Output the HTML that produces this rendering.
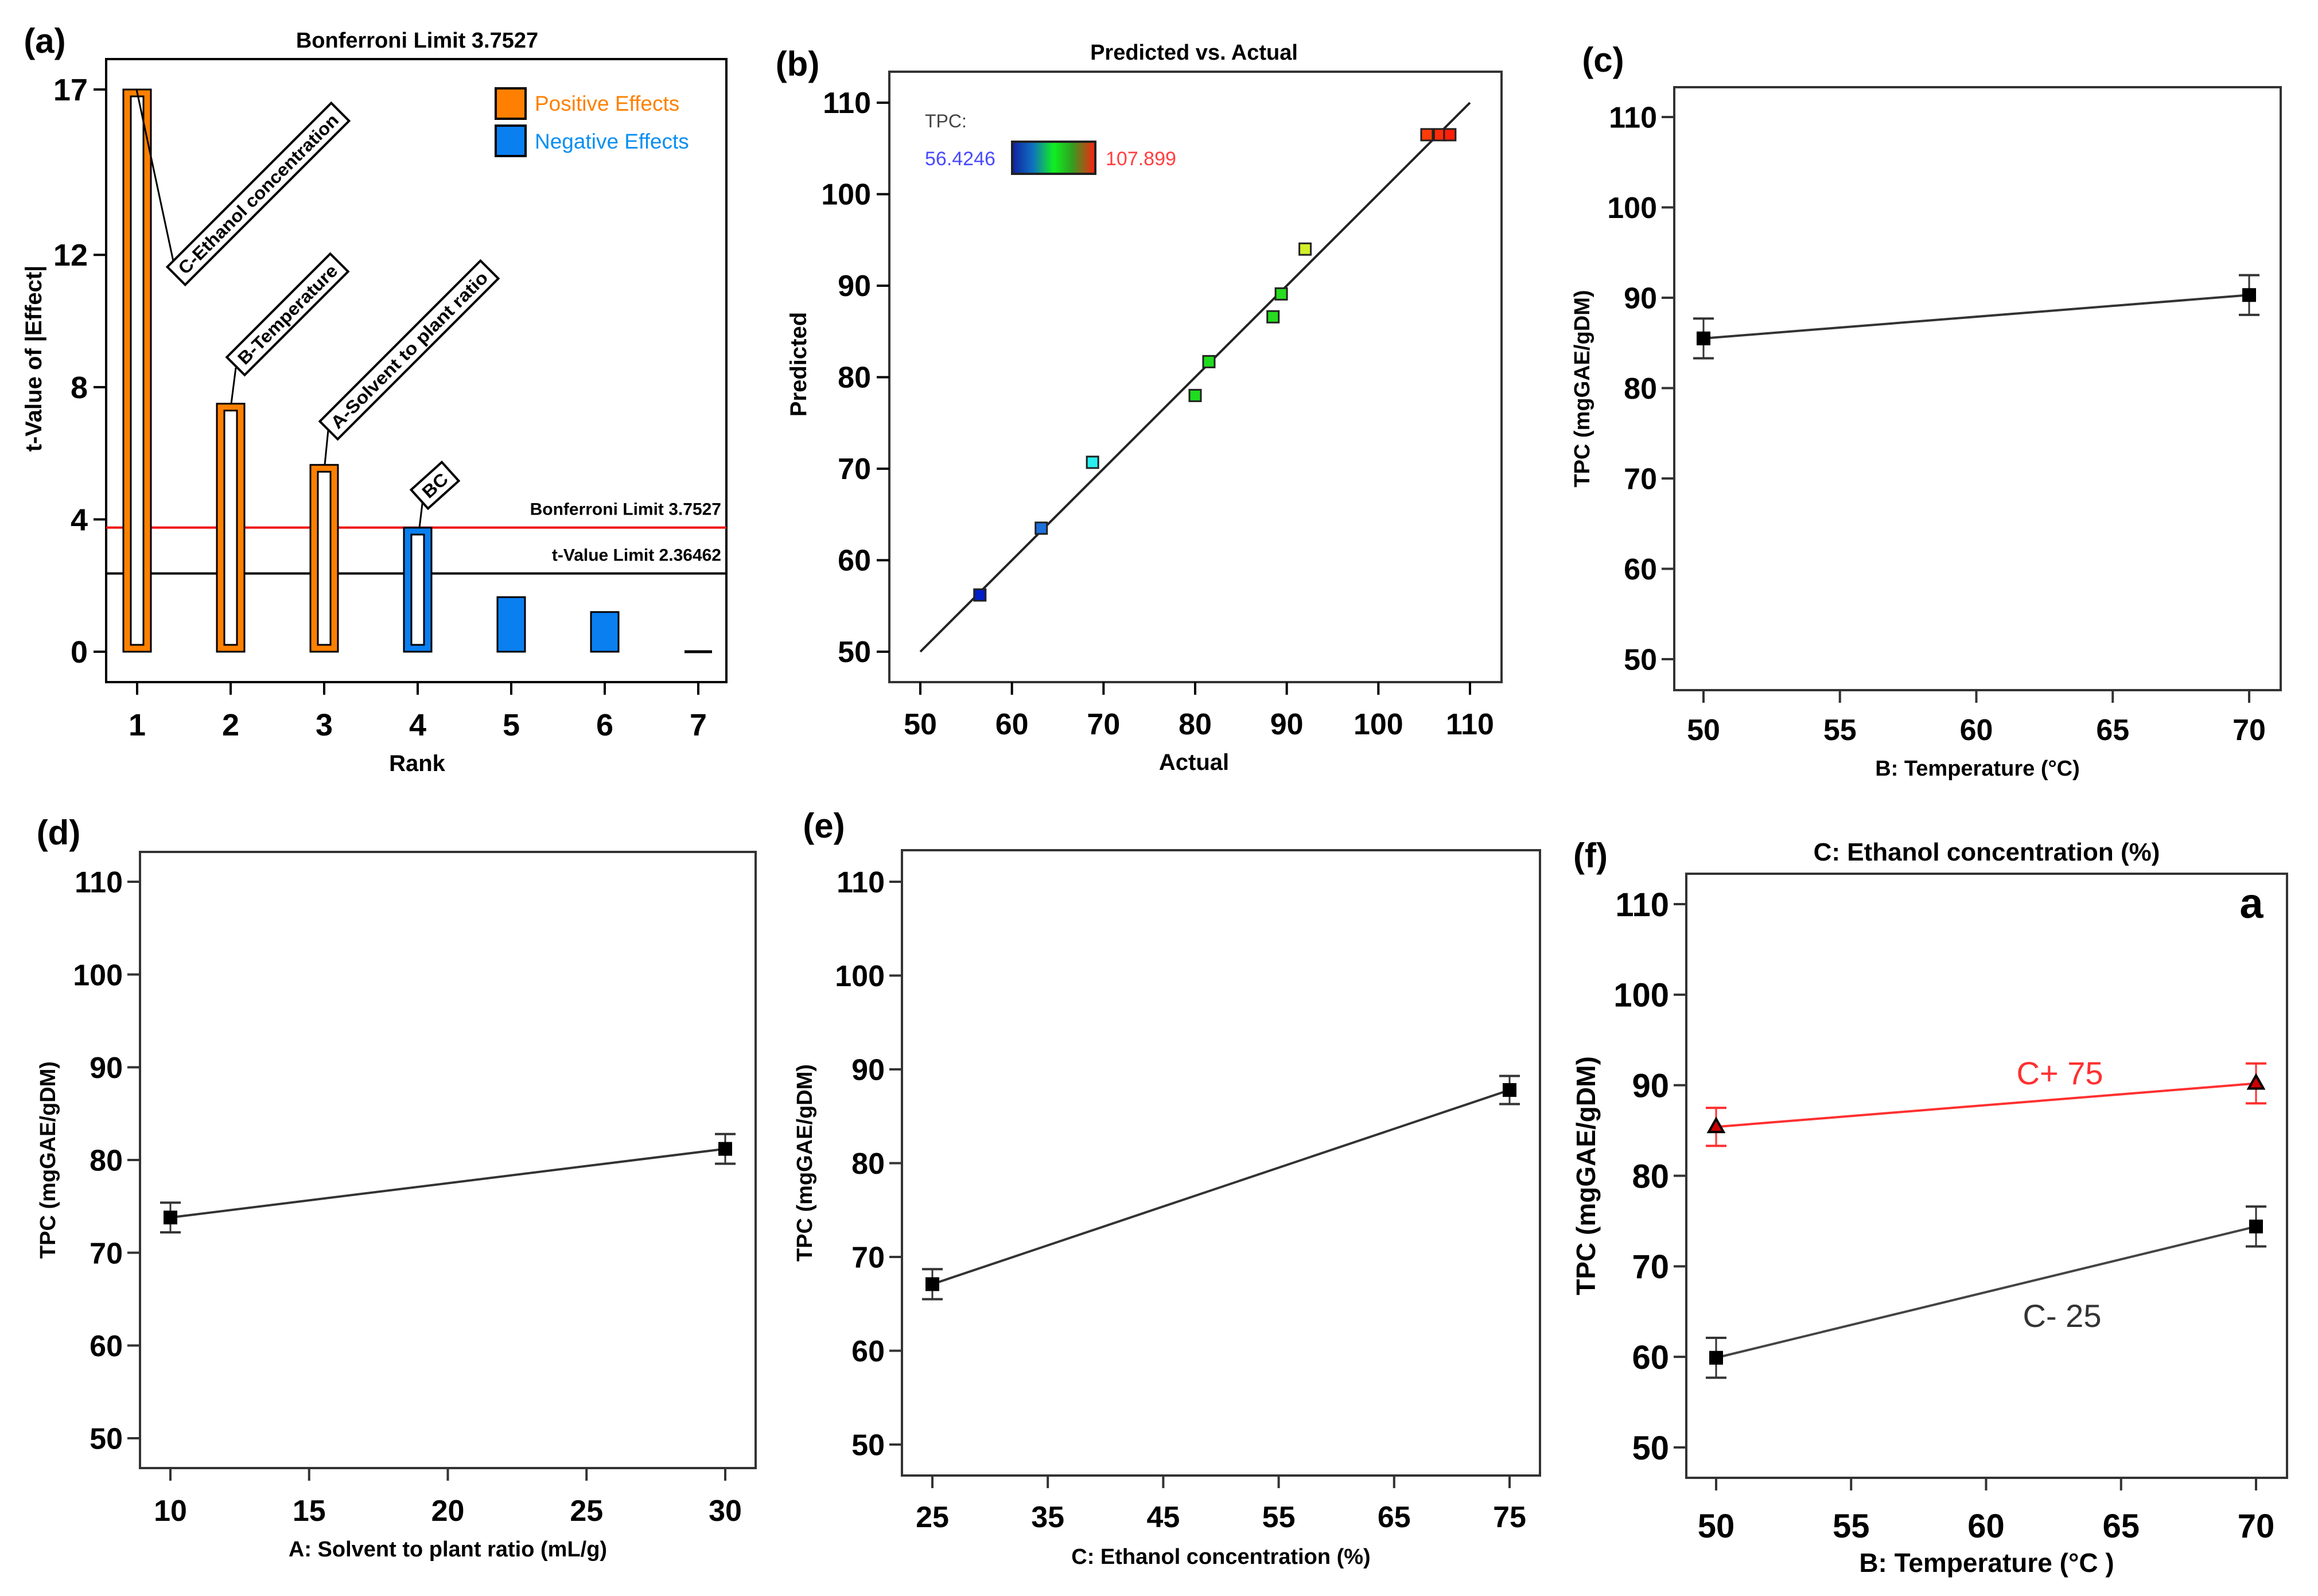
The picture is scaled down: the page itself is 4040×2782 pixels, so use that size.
<!DOCTYPE html>
<html><head><meta charset="utf-8"><style>
html,body{margin:0;padding:0;background:#fff;}
svg{display:block;font-family:"Liberation Sans",sans-serif;}
</style></head><body>
<svg id="fig" width="4040" height="2782" viewBox="0 0 4040 2782" xmlns="http://www.w3.org/2000/svg">
<defs>
<linearGradient id="cbar" x1="0" x2="1" y1="0" y2="0">
<stop offset="0" stop-color="#1020a0"/><stop offset="0.25" stop-color="#1070c0"/><stop offset="0.5" stop-color="#10f020"/><stop offset="0.72" stop-color="#30a020"/><stop offset="1" stop-color="#ff2010"/>
</linearGradient>
</defs>
</svg>
<script>
// ---- Panel (a) data ----
const paretoRanks = [1,2,3,4,5,6,7];
const paretoValues = [17, 7.5, 5.65, 3.75, 1.65, 1.2, 0];
const paretoSign = ['pos','pos','pos','neg','neg','neg','neg'];
const paretoYTicks = [0,4,8,12,17];
const bonferroniLimit = 3.7527;
const tValueLimit = 2.36462;
// ---- Panel (b) data ----
const actualVals = [56.5, 63.2, 68.8, 80.0, 81.5, 88.5, 89.4, 92.0, 105.3, 106.7, 107.8];
const predictedVals = [56.2, 63.5, 70.7, 78.0, 81.7, 86.6, 89.1, 94.0, 106.5, 106.5, 106.5];
const pvTicks = [50,60,70,80,90,100,110];
// ---- Panels (c)-(f) data ----
const tpcTicks = [50,60,70,80,90,100,110];
const tempTicks = [50,55,60,65,70];
const tempX = [50,70];
const tempTPC = [85.5, 90.3];
const tempErr = [2.2, 2.2];
const ratioTicks = [10,15,20,25,30];
const ratioX = [10,30];
const ratioTPC = [73.8, 81.2];
const ratioErr = [1.6, 1.6];
const ethTicks = [25,35,45,55,65,75];
const ethX = [25,75];
const ethTPC = [67.1, 87.8];
const ethErr = [1.6, 1.5];
const intX = [50,70];
const intHighTPC = [85.4, 90.2];
const intHighErr = [2.1, 2.2];
const intLowTPC = [59.9, 74.4];
const intLowErr = [2.2, 2.2];

const svg = document.getElementById('fig');
const NS = 'http://www.w3.org/2000/svg';
function el(tag, attrs, parent, text){
  const e = document.createElementNS(NS, tag);
  for (const k in attrs) e.setAttribute(k, attrs[k]);
  if (text !== undefined) e.textContent = text;
  (parent||svg).appendChild(e);
  return e;
}
function lin(d0,d1,r0,r1){ return v => r0 + (v-d0)*(r1-r0)/(d1-d0); }

// ===== Panel (a) =====
(function(){
  const g = el('g', {});
  
  
  const L=185,R=1266,T=103,B=1189;
  const x = lin(1,7,239,1217), y = lin(0,17,1136,156);
  const t = el('text',{x:78,y:92,'font-size':60,'font-weight':'bold','text-anchor':'middle'},g,'(a)');
   
  const tt = el('text',{x:727,y:83,'font-size':38,'font-weight':'bold','text-anchor':'middle'},g,'Bonferroni Limit 3.7527');
   
  const fr = el('rect',{x:L,y:T,width:R-L,height:B-T,fill:'none',stroke:'#000','stroke-width':4},g);
   
  paretoYTicks.forEach(v=>{
    el('line',{x1:L-22,x2:L,y1:y(v),y2:y(v),stroke:'#000','stroke-width':4},g);
    const lb = el('text',{x:L-32,y:y(v)+19,'font-size':54,'font-weight':'bold','text-anchor':'end'},g,String(v));
     
  });
  paretoRanks.forEach(r=>{
    el('line',{x1:x(r),x2:x(r),y1:B,y2:B+22,stroke:'#000','stroke-width':4},g);
    const lb = el('text',{x:x(r),y:1282,'font-size':54,'font-weight':'bold','text-anchor':'middle'},g,String(r));
     
  });
  const xt = el('text',{x:727,y:1344,'font-size':40,'font-weight':'bold','text-anchor':'middle'},g,'Rank');
   
  const yt = el('text',{x:0,y:0,'font-size':40,'font-weight':'bold','text-anchor':'middle',transform:'translate(72,625) rotate(-90)'},g,'t-Value of |Effect|');
   
  const bl = el('line',{x1:L,x2:R,y1:y(bonferroniLimit),y2:y(bonferroniLimit),stroke:'#f01010','stroke-width':4},g);
   
  const tl = el('line',{x1:L,x2:R,y1:y(tValueLimit),y2:y(tValueLimit),stroke:'#000','stroke-width':4},g);
   
  const blt = el('text',{x:1257,y:y(bonferroniLimit)-22,'font-size':30,'font-weight':'bold','text-anchor':'end'},g,'Bonferroni Limit 3.7527');
   
  const tlt = el('text',{x:1257,y:y(tValueLimit)-22,'font-size':30,'font-weight':'bold','text-anchor':'end'},g,'t-Value Limit 2.36462');
   
  paretoValues.forEach((v,i)=>{
    const cx = x(paretoRanks[i]);
    const col = paretoSign[i]==='pos' ? '#ff8000' : '#0a7ff0';
    if (v <= 0.05){
      const ln = el('line',{x1:cx-24,x2:cx+24,y1:y(0),y2:y(0),stroke:'#000','stroke-width':5},g);
       
      return;
    }
    const hollow = i < 4;
    const b = el('rect',{x:cx-24,y:y(v),width:48,height:y(0)-y(v),fill:col,stroke:'#000','stroke-width':3},g);
     
    if (hollow){
      el('rect',{x:cx-11,y:y(v)+12,width:22,height:y(0)-y(v)-24,fill:'#fff',stroke:'#000','stroke-width':3},g);
    }
  });
  const anns = [
    {txt:'C-Ethanol concentration',cx:450,cy:338,len:404,ang:-45,l:[[238,y(paretoValues[0])],[302,455]],n:'annotation-c-ethanol'},
    {txt:'B-Temperature',cx:501,cy:548,len:255,ang:-45,l:[[403,y(paretoValues[1])],[411,641]],n:'annotation-b-temperature'},
    {txt:'A-Solvent to plant ratio',cx:713,cy:610,len:396,ang:-45,l:[[566,y(paretoValues[2])],[572,750]],n:'annotation-a-solvent'},
    {txt:'BC',cx:758,cy:846,len:72,ang:-42,l:[[731,y(paretoValues[3])],[737,870]],n:'annotation-bc'}
  ];
  anns.forEach(a=>{
    el('line',{x1:a.l[0][0],y1:a.l[0][1],x2:a.l[1][0],y2:a.l[1][1],stroke:'#000','stroke-width':3},g);
    const ag = el('g',{transform:`translate(${a.cx},${a.cy}) rotate(${a.ang})`},g);
     
    el('rect',{x:-a.len/2,y:-22,width:a.len,height:44,fill:'#fff',stroke:'#000','stroke-width':4},ag);
    el('text',{x:0,y:11,'font-size':31,'font-weight':'bold','text-anchor':'middle',textLength:a.len-24,lengthAdjust:'spacingAndGlyphs'},ag,a.txt);
  });
  const lg = el('g',{},g);
   
  const l1 = el('rect',{x:864,y:154,width:52,height:53,fill:'#ff8000',stroke:'#000','stroke-width':4},lg);
   
  const l2 = el('rect',{x:864,y:219,width:52,height:53,fill:'#0a7ff0',stroke:'#000','stroke-width':4},lg);
   
  const lt1 = el('text',{x:932,y:193,'font-size':37,fill:'#ff8000'},lg,'Positive Effects');
   
  const lt2 = el('text',{x:932,y:259,'font-size':37,fill:'#0a8ff0'},lg,'Negative Effects');
   
})();

// ===== Panel (b) =====
(function(){
  const g = el('g',{});
  
  
  const L=1550,R=2617,T=125,B=1189;
  const x = lin(50,110,1604,2562), y = lin(50,110,1136,179);
  const pl = el('text',{x:1390,y:132,'font-size':60,'font-weight':'bold','text-anchor':'middle'},g,'(b)');
   
  const tt = el('text',{x:2081,y:104,'font-size':38,'font-weight':'bold','text-anchor':'middle'},g,'Predicted vs. Actual');
   
  const fr = el('rect',{x:L,y:T,width:R-L,height:B-T,fill:'none',stroke:'#333','stroke-width':4},g);
   
  pvTicks.forEach(v=>{
    el('line',{x1:L-22,x2:L,y1:y(v),y2:y(v),stroke:'#000','stroke-width':4},g);
    const a = el('text',{x:L-32,y:y(v)+18,'font-size':52,'font-weight':'bold','text-anchor':'end'},g,String(v));
     
    el('line',{x1:x(v),x2:x(v),y1:B,y2:B+22,stroke:'#000','stroke-width':4},g);
    const b = el('text',{x:x(v),y:1280,'font-size':52,'font-weight':'bold','text-anchor':'middle'},g,String(v));
     
  });
  const xt = el('text',{x:2081,y:1342,'font-size':40,'font-weight':'bold','text-anchor':'middle'},g,'Actual');
   
  const yt = el('text',{x:0,y:0,'font-size':40,'font-weight':'bold','text-anchor':'middle',transform:'translate(1405,635) rotate(-90)'},g,'Predicted');
   
  const dl = el('line',{x1:x(50),y1:y(50),x2:x(110),y2:y(110),stroke:'#222','stroke-width':4},g);
   
  const cmin=56.4246, cmax=107.899;
  const stops=[[0,[0,30,200]],[0.13,[30,110,220]],[0.24,[40,240,240]],[0.45,[30,220,30]],[0.65,[40,220,30]],[0.69,[210,240,40]],[0.85,[255,120,0]],[1,[255,30,10]]];
  function cmap(v){
    const t=Math.max(0,Math.min(1,(v-cmin)/(cmax-cmin)));
    for(let i=1;i<stops.length;i++){ if(t<=stops[i][0]){ const a=stops[i-1],b=stops[i]; const f=(t-a[0])/(b[0]-a[0]); const c=a[1].map((c0,k)=>Math.round(c0+(b[1][k]-c0)*f)); return `rgb(${c})`; } }
    return 'rgb(255,30,10)';
  }
  actualVals.forEach((a,i)=>{
    const p = el('rect',{x:x(a)-10,y:y(predictedVals[i])-10,width:20,height:20,fill:cmap(a),stroke:'#222','stroke-width':3},g);
     
  });
  const cl = el('text',{x:1612,y:222,'font-size':32,fill:'#444'},g,'TPC:');
   
  const cb = el('rect',{x:1764,y:247,width:145,height:56,fill:'url(#cbar)',stroke:'#222','stroke-width':4},g);
   
  const c1 = el('text',{x:1612,y:288,'font-size':34,fill:'#4a4aff'},g,'56.4246');
   
  const c2 = el('text',{x:1927,y:288,'font-size':34,fill:'#ff4040'},g,'107.899');
   
})();

// ===== Line panels =====
function linePanel(o){
  const g = el('g',{});
  
  
  const x = lin(o.xd[0],o.xd[1],o.xr[0],o.xr[1]), y = lin(50,110,o.y50,o.y110);
  const pl = el('text',{x:o.lab[0],y:o.lab[1],'font-size':60,'font-weight':'bold','text-anchor':'middle'},g,o.label);
   
  if (o.title){
    const tt = el('text',{x:(o.L+o.R)/2,y:o.titleY,'font-size':44,'font-weight':'bold','text-anchor':'middle'},g,o.title);
     
  }
  const fr = el('rect',{x:o.L,y:o.T,width:o.R-o.L,height:o.B-o.T,fill:'none',stroke:'#333','stroke-width':4},g);
   
  tpcTicks.forEach(v=>{
    el('line',{x1:o.L-22,x2:o.L,y1:y(v),y2:y(v),stroke:'#333','stroke-width':4},g);
    const a = el('text',{x:o.L-30,y:y(v)+o.fs*0.36,'font-size':o.fs,'font-weight':'bold','text-anchor':'end'},g,String(v));
     
  });
  o.xticks.forEach(v=>{
    el('line',{x1:x(v),x2:x(v),y1:o.B,y2:o.B+22,stroke:'#333','stroke-width':4},g);
    const b = el('text',{x:x(v),y:o.xtY,'font-size':o.fs,'font-weight':'bold','text-anchor':'middle'},g,String(v));
     
  });
  const xt = el('text',{x:(o.L+o.R)/2,y:o.xtitleY,'font-size':o.tfs,'font-weight':'bold','text-anchor':'middle'},g,o.xtitle);
   
  const yt = el('text',{x:0,y:0,'font-size':o.tfs,'font-weight':'bold','text-anchor':'middle',transform:`translate(${o.ytitleX},${(o.T+o.B)/2}) rotate(-90)`},g,'TPC (mgGAE/gDM)');
   
  o.series.forEach(s=>{
    const sg = el('g',{},g);
     
    el('polyline',{points:s.xs.map((v,i)=>x(v)+','+y(s.ys[i])).join(' '),fill:'none',stroke:s.color,'stroke-width':4},sg);
    s.xs.forEach((v,i)=>{
      const cx=x(v), cy=y(s.ys[i]), e=s.err[i];
      el('line',{x1:cx,x2:cx,y1:y(s.ys[i]+e),y2:y(s.ys[i]-e),stroke:s.ecolor,'stroke-width':3},sg);
      el('line',{x1:cx-18,x2:cx+18,y1:y(s.ys[i]+e),y2:y(s.ys[i]+e),stroke:s.ecolor,'stroke-width':4},sg);
      el('line',{x1:cx-18,x2:cx+18,y1:y(s.ys[i]-e),y2:y(s.ys[i]-e),stroke:s.ecolor,'stroke-width':4},sg);
      let m;
      if (s.marker==='tri') m = el('polygon',{points:`${cx},${cy-14} ${cx-13},${cy+9} ${cx+13},${cy+9}`,fill:'#c00',stroke:'#000','stroke-width':4},sg);
      else m = el('rect',{x:cx-12,y:cy-12,width:24,height:24,fill:'#000'},sg);
       
    });
  });
  return {g,x,y};
}
linePanel({id:'c',name:'temperature-effect-chart',label:'(c)',lab:[2794,125],L:2918,R:3975,T:152,B:1203,xd:[50,70],xr:[2969,3920],y50:1149,y110:204,
  xticks:tempTicks,xtY:1290,xtitle:'B: Temperature (°C)',xtitleY:1352,ytitleX:2770,fs:52,tfs:38,
  series:[{name:'series-temperature',xs:tempX,ys:tempTPC,err:tempErr,color:'#333',ecolor:'#333',marker:'sq'}]});
linePanel({id:'d',name:'solvent-ratio-effect-chart',label:'(d)',lab:[102,1472],L:244,R:1317,T:1485,B:2559,xd:[10,30],xr:[297,1264],y50:2507,y110:1537,
  xticks:ratioTicks,xtY:2651,xtitle:'A: Solvent to plant ratio (mL/g)',xtitleY:2713,ytitleX:96,fs:52,tfs:38,
  series:[{name:'series-solvent-ratio',xs:ratioX,ys:ratioTPC,err:ratioErr,color:'#333',ecolor:'#333',marker:'sq'}]});
linePanel({id:'e',name:'ethanol-effect-chart',label:'(e)',lab:[1436,1460],L:1572,R:2684,T:1482,B:2572,xd:[25,75],xr:[1625,2631],y50:2518,y110:1537,
  xticks:ethTicks,xtY:2662,xtitle:'C: Ethanol concentration (%)',xtitleY:2726,ytitleX:1415,fs:52,tfs:38,
  series:[{name:'series-ethanol',xs:ethX,ys:ethTPC,err:ethErr,color:'#333',ecolor:'#333',marker:'sq'}]});
(function(){
  const r = linePanel({id:'f',name:'interaction-chart',label:'(f)',lab:[2772,1512],L:2939,R:3986,T:1523,B:2576,xd:[50,70],xr:[2991,3932],y50:2523,y110:1576,
    title:'C: Ethanol concentration (%)',titleY:1500,
    xticks:tempTicks,xtY:2680,xtitle:'B: Temperature (°C )',xtitleY:2740,ytitleX:2780,fs:58,tfs:46,
    series:[{name:'series-c-plus-75',xs:intX,ys:intHighTPC,err:intHighErr,color:'#ff3030',ecolor:'#ff3030',marker:'tri'},
            {name:'series-c-minus-25',xs:intX,ys:intLowTPC,err:intLowErr,color:'#444',ecolor:'#333',marker:'sq'}]});
  const a = el('text',{x:3590,y:1890,'font-size':56,fill:'#ff3030','text-anchor':'middle'},r.g,'C+ 75');
   
  const b = el('text',{x:3594,y:2313,'font-size':56,fill:'#333','text-anchor':'middle'},r.g,'C- 25');
   
  const c = el('text',{x:3924,y:1600,'font-size':74,'font-weight':'bold','text-anchor':'middle'},r.g,'a');
   
})();
</script>
</body></html>
